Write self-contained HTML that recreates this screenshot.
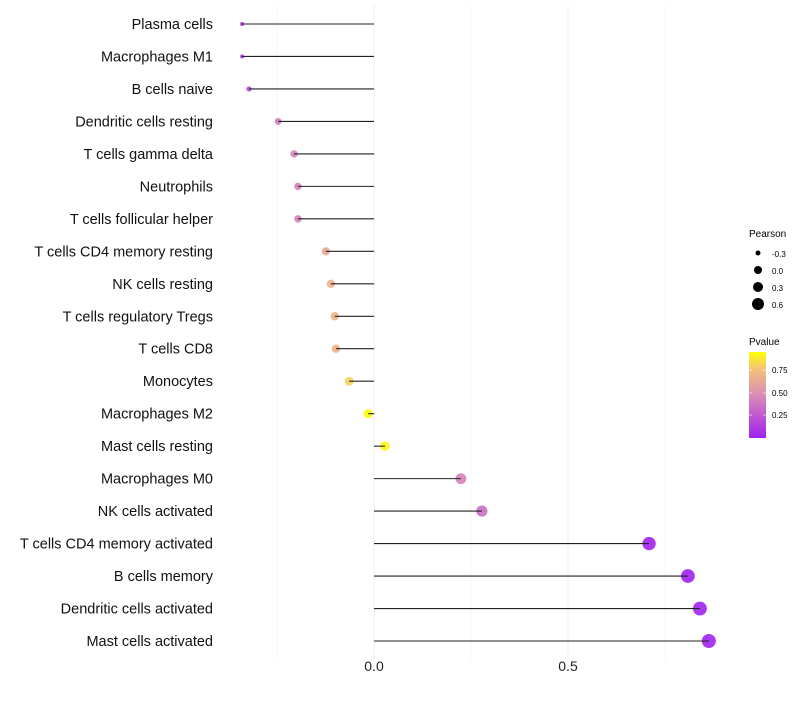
<!DOCTYPE html>
<html><head><meta charset="utf-8"><style>
body{margin:0;background:#fff;}
svg{font-family:"Liberation Sans",sans-serif;}
</style></head><body>
<svg id="chart" width="800" height="700" xmlns="http://www.w3.org/2000/svg">
<defs>
<linearGradient id="pgrad" x1="0" y1="1" x2="0" y2="0">
<stop offset="0" stop-color="#a020f0"/>
<stop offset="0.5" stop-color="#db8cb4"/>
<stop offset="0.8" stop-color="#f3c27a"/>
<stop offset="1" stop-color="#ffff00"/>
</linearGradient>
</defs>
<g id="grid"></g>
<g id="marks"></g>
<g id="ylabels"></g>
<g id="xlabels"></g>
<g>
<text x="749" y="237" font-size="10" fill="#000">Pearson</text>
<circle cx="758" cy="253" r="2.5" fill="#000"/>
<text x="772" y="257" font-size="8">-0.3</text>
<circle cx="758" cy="270" r="4" fill="#000"/>
<text x="772" y="274" font-size="8">0.0</text>
<circle cx="758" cy="287" r="5" fill="#000"/>
<text x="772" y="291" font-size="8">0.3</text>
<circle cx="758" cy="304" r="6" fill="#000"/>
<text x="772" y="308" font-size="8">0.6</text>
</g>
<g>
<text x="749" y="345" font-size="10">Pvalue</text>
<rect x="749" y="352" width="17" height="86" fill="url(#pgrad)"/>
<text x="772" y="373" font-size="8">0.75</text>
<text x="772" y="396" font-size="8">0.50</text>
<text x="772" y="418" font-size="8">0.25</text>
<line x1="749" x2="752" y1="370" y2="370" stroke="#fff" stroke-width="0.6"/><line x1="763" x2="766" y1="370" y2="370" stroke="#fff" stroke-width="0.6"/>
<line x1="749" x2="752" y1="393" y2="393" stroke="#fff" stroke-width="0.6"/><line x1="763" x2="766" y1="393" y2="393" stroke="#fff" stroke-width="0.6"/>
<line x1="749" x2="752" y1="415" y2="415" stroke="#fff" stroke-width="0.6"/><line x1="763" x2="766" y1="415" y2="415" stroke="#fff" stroke-width="0.6"/>
</g>
</svg>
<script>
const categories=["Plasma cells","Macrophages M1","B cells naive","Dendritic cells resting","T cells gamma delta","Neutrophils","T cells follicular helper","T cells CD4 memory resting","NK cells resting","T cells regulatory  Tregs ","T cells CD8","Monocytes","Macrophages M2","Mast cells resting","Macrophages M0","NK cells activated","T cells CD4 memory activated","B cells memory","Dendritic cells activated","Mast cells activated"];
const pearson=[-0.340,-0.340,-0.322,-0.247,-0.206,-0.196,-0.196,-0.124,-0.111,-0.101,-0.098,-0.064,-0.015,0.028,0.224,0.278,0.709,0.809,0.840,0.863];
const pvalues=[0.08,0.08,0.15,0.42,0.45,0.45,0.45,0.65,0.7,0.72,0.72,0.85,0.99,0.97,0.45,0.36,0.01,0.01,0.01,0.01];
const xTicks=[0,0.5];
const xTickLabels=["0.0","0.5"];
const gridVals=[-0.25,0,0.25,0.5,0.75];
const NS="http://www.w3.org/2000/svg";
const x=v=>374+v*388;
const y=i=>24+i*(641-24)/19;
const r=v=>2+5*Math.sqrt(Math.max(0,v+0.34)/1.2);
function col(p){
 const stops=[[0,[160,32,240]],[0.5,[219,140,180]],[0.8,[243,194,122]],[1,[255,255,0]]];
 for(let k=1;k<stops.length;k++){if(p<=stops[k][0]){const a=stops[k-1],b=stops[k];const t=(p-a[0])/(b[0]-a[0]);return "rgb("+a[1].map((c,j)=>Math.round(c+(b[1][j]-c)*t)).join(",")+")";}}
 return "rgb(255,255,0)";
}
function mk(tag,at,parent){const e=document.createElementNS(NS,tag);for(const k in at)e.setAttribute(k,at[k]);parent.appendChild(e);return e;}
const G=document.getElementById('grid'),M=document.getElementById('marks'),YL=document.getElementById('ylabels'),XL=document.getElementById('xlabels');
gridVals.forEach(v=>{const l=mk('line',{x1:x(v),x2:x(v),y1:5,y2:660,stroke:'#f2f2f2','stroke-width':v%0.5===0?1:0.6},G);

});
categories.forEach((c,i)=>{
 const ci=mk('circle',{cx:x(pearson[i]),cy:y(i),r:r(pearson[i]),fill:col(pvalues[i]),'fill-opacity':0.9},M);
 
 
 const ln=mk('line',{x1:x(0),x2:x(pearson[i]),y1:y(i),y2:y(i),stroke:'#222','stroke-width':1.1},M);
 
 
 const t=mk('text',{x:213,y:y(i)+5,'text-anchor':'end','font-size':14.5,fill:'#111'},YL);
 
 
 t.textContent=c;
});
xTicks.forEach((v,i)=>{const t=mk('text',{x:x(v),y:671,'text-anchor':'middle','font-size':14,fill:'#222'},XL);


t.textContent=xTickLabels[i];});
</script>
</body></html>
